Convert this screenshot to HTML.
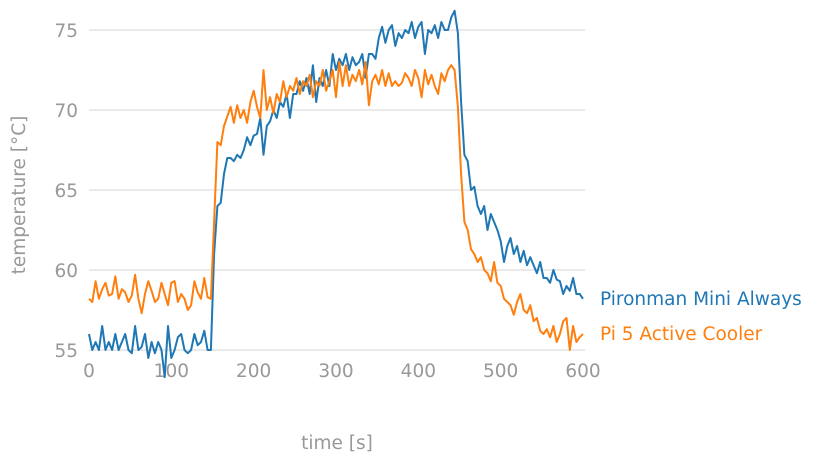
<!DOCTYPE html>
<html><head><meta charset="utf-8"><style>
body{margin:0;background:#fff;}
svg{font-family:"DejaVu Sans","Liberation Sans",sans-serif;}
</style></head><body>
<svg id="c" width="822" height="462"></svg>
<script>
const pironman = [56,55,55.5,55,56.5,55,55.5,55,56,55,55.5,56,55,54.8,56.5,55,55.2,56,54.5,55.5,54.8,55.5,55,53.3,56.5,54.5,55,55.8,56,55,54.8,55,56,55.3,55.5,56.2,55,55,
61,64,64.2,66,67,67,66.8,67.2,67,67.5,68.3,67.8,68.4,68.5,69.5,67.2,69,69.3,70,69.5,70.5,70.2,71,69.5,71,71,71.8,71.2,72,71,72.8,70.5,72,71.5,72.5,71.5,73.5,72.5,73.2,72.8,73.5,72.5,73.3,72.8,73,73.5,72,73.5,73.5,73.2,74.5,75.2,74.2,75,75.3,74,74.8,74.5,75,74.8,75.5,74.5,75.2,75.5,73.5,75,74.8,75.3,74.5,75.5,75,75,75.8,76.2,74.8,70.5,67.2,66.8,65,65.2,64,63.5,64,62.5,63.5,63,62.5,61.8,60.5,61.5,62,61,61.5,60.5,61.2,60.3,60.8,60.3,59.8,60.5,59.5,59.5,59.2,60,59.4,59.3,58.5,59,58.7,59.5,58.5,58.5,58.2];
const cooler = [58.2,58,59.3,58.2,58.8,59.2,58.4,58.5,59.6,58.2,58.8,58.6,58,58.4,59.7,58.2,57.3,58.5,59.3,58.7,58,58.2,59.2,58.5,57.8,59.2,59.3,58,58.5,58.2,57.5,57.8,59.3,58.6,58.2,59.5,58.3,58.2,
63,68,67.8,69,69.6,70.2,69.2,70.3,69.5,70,69.2,70.5,71.2,70.2,69.5,72.5,70,70.8,69.8,71,70.5,71.8,70.8,71.5,71.2,72,71,71.8,71.5,72.2,70.8,71.8,71.5,72.5,71.2,71.8,72.5,70.8,73,71.5,72.8,71.5,72.2,71.8,72.5,71.6,73,70.3,71.8,72.2,71.6,72.5,71.5,72.3,71.5,71.8,71.5,71.7,72.3,72,71.5,72.5,72,70.8,72.5,71.6,72.2,71.5,71,72.3,71.8,72.5,72.8,72.5,70.2,66,63,62.5,61.3,61,60.5,60.8,60,59.8,59.3,60.5,59.2,59,58.2,58,57.8,57.2,58,58.5,57.5,57.3,57.8,56.8,57,56.2,56,56.3,55.8,56.5,55.5,56,56.8,57,55,56.5,55.5,55.8,56];
const xTicks = [0,100,200,300,400,500,600];
const yTicks = [55,60,65,70,75];
const seriesNames = ["Pironman Mini Always","Pi 5 Active Cooler"];
const colors = ["#1f77b4","#ff7f0e"];
const step = 4;

const NS="http://www.w3.org/2000/svg";
const svg=document.getElementById('c');
const X=t=>89+t*(583-89)/600;
const Y=v=>350-(v-55)*16;
function mk(tag,attrs,parent){const e=document.createElementNS(NS,tag);for(const k in attrs)e.setAttribute(k,attrs[k]);(parent||svg).appendChild(e);return e;}
yTicks.forEach(v=>{
  const l=mk('line',{x1:89,x2:585,y1:Y(v),y2:Y(v),stroke:'#e3e3e3','stroke-width':1.5});
  
  
  const t=mk('text',{x:78,y:Y(v)+7,'text-anchor':'end','font-size':18.5,fill:'#999'});
  t.textContent=v;
  
  
});
xTicks.forEach(v=>{
  const t=mk('text',{x:X(v),y:377,'text-anchor':'middle','font-size':18.5,fill:'#999'});
  t.textContent=v;
  
  
});
[pironman,cooler].forEach((arr,i)=>{
  const d=arr.map((v,j)=>(j?'L':'M')+X(j*step).toFixed(1)+','+Y(v).toFixed(1)).join('');
  const p=mk('path',{d:d,fill:'none',stroke:colors[i],'stroke-width':2,'stroke-linejoin':'round'});
  
  
  const t=mk('text',{x:600,y:[305,340][i],'font-size':18.5,fill:colors[i]});
  t.textContent=seriesNames[i];
  
  
});
const xt=mk('text',{x:337,y:449,'text-anchor':'middle','font-size':18.5,fill:'#999'});
xt.textContent='time [s]';


const yt=mk('text',{x:0,y:0,transform:'translate(25,195) rotate(-90)','text-anchor':'middle','font-size':18.5,fill:'#999'});
yt.textContent='temperature [°C]';


</script>
</body></html>
